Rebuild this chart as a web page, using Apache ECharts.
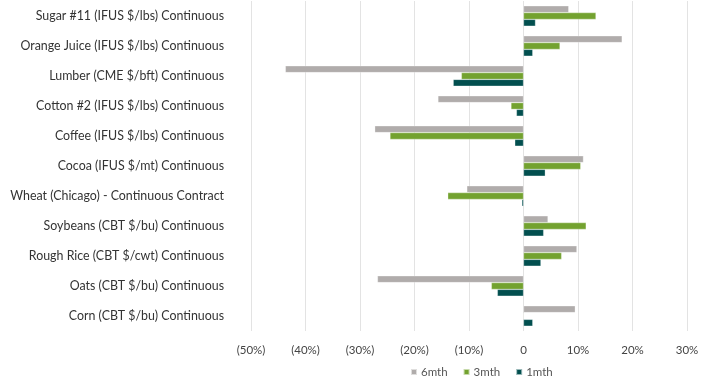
<!DOCTYPE html>
<html><head><meta charset="utf-8">
<script src="https://cdn.jsdelivr.net/npm/echarts@6/dist/echarts.min.js"></script>
<style>html,body{margin:0;padding:0;background:#fff}#c{width:717px;height:376px}</style>
</head><body><div id="c"></div>
<script>
var categories = [
  "Sugar #11 (IFUS $/lbs) Continuous",
  "Orange Juice (IFUS $/lbs) Continuous",
  "Lumber (CME $/bft) Continuous",
  "Cotton #2 (IFUS $/lbs) Continuous",
  "Coffee (IFUS $/lbs) Continuous",
  "Cocoa (IFUS $/mt) Continuous",
  "Wheat (Chicago) - Continuous Contract",
  "Soybeans (CBT $/bu) Continuous",
  "Rough Rice (CBT $/cwt) Continuous",
  "Oats (CBT $/bu) Continuous",
  "Corn (CBT $/bu) Continuous"
];
var seriesNames = ["6mth", "3mth", "1mth"];
var m6 = [0.083, 0.181, -0.437, -0.157, -0.273, 0.110, -0.104, 0.045, 0.098, -0.268, 0.095];
var m3 = [0.133, 0.067, -0.114, -0.023, -0.245, 0.105, -0.139, 0.115, 0.070, -0.059, 0.001];
var m1 = [0.022, 0.017, -0.129, -0.013, -0.016, 0.040, -0.003, 0.037, 0.032, -0.048, 0.017];
var colors = ["#B0ACAB", "#73A22F", "#024F4F"];

var font = "Lato, 'Noto Sans', sans-serif";
function fmt(v){
  var p = Math.round(v*100);
  if (p === 0) return "0";
  return p < 0 ? "(" + (-p) + "%)" : p + "%";
}
var chart = echarts.init(document.getElementById('c'), null, {renderer:'canvas'});
var data = [m6, m3, m1];
chart.setOption({
  animation:false,
  textStyle:{fontFamily:font},
  grid:{left:251, right:30, top:1, bottom:45, containLabel:false},
  legend:{
    top:361, left:405, itemWidth:6, itemHeight:6, itemGap:15, icon:'rect',
    textStyle:{fontFamily:font, fontSize:11.5, color:'#555', padding:[0,0,0,-1]},
    data: seriesNames
  },
  xAxis:{
    type:'value', min:-0.5, max:0.3, interval:0.1,
    axisLine:{show:false}, axisTick:{show:false},
    splitLine:{show:true, lineStyle:{color:'#E3E3E3', width:1}},
    axisLabel:{formatter:fmt, color:'#444', fontSize:11.5, margin:13, fontFamily:font}
  },
  yAxis:{
    type:'category', data:categories, inverse:true,
    axisLine:{show:false}, axisTick:{show:false},
    axisLabel:{color:'#333', fontSize:12.4, margin:27, fontFamily:font}
  },
  series: seriesNames.map(function(n,i){
    return {
      name:n, type:'bar', data:data[i], barGap:'0%', barCategoryGap:'32%',
      itemStyle:{color:colors[i], borderColor:'rgba(255,255,255,0.6)', borderWidth:0.5}
    };
  })
});
</script></body></html>
